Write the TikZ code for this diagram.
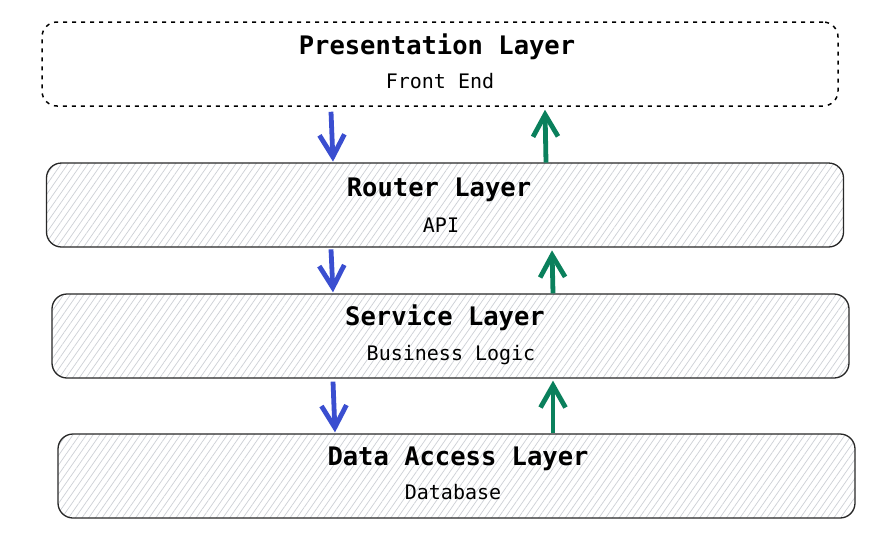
\documentclass[tikz,border=0pt]{standalone}
\usepackage{fontspec}
\setmonofont{DejaVu Sans Mono}
\usetikzlibrary{arrows.meta,patterns.meta,calc}
\definecolor{downblue}{RGB}{58,78,208}
\definecolor{upgreen}{RGB}{10,128,92}
\definecolor{hatchgrey}{RGB}{205,208,214}
\definecolor{edgegrey}{RGB}{40,40,40}
\tikzset{
  layerbox/.style={draw=edgegrey, line width=1.3pt, rounded corners=15pt,
    minimum width=797pt, minimum height=84pt, inner sep=0pt,
    pattern={Lines[angle=55,distance=5.5pt,line width=0.7pt]}, pattern color=hatchgrey},
  toplayer/.style={draw=black, line width=1.5pt, rounded corners=15pt,
    minimum width=796pt, minimum height=84pt, inner sep=0pt,
    dash pattern=on 4pt off 5pt},
  titletext/.style={font=\ttfamily\bfseries\fontsize{25.5}{28}\selectfont, inner sep=0pt, anchor=center},
  subtext/.style={font=\ttfamily\fontsize{20}{24}\selectfont, inner sep=0pt, anchor=center},
  downarr/.style={draw=downblue, line width=4.8pt, -{Straight Barb[length=22pt,width=25pt,line width=4.8pt]}},
  uparr/.style={draw=upgreen, line width=4.8pt, -{Straight Barb[length=22pt,width=25pt,line width=4.8pt]}},
}
\begin{document}
\begin{tikzpicture}[x=1pt,y=-1pt]
\useasboundingbox (0,0) rectangle (890,539);
\fill[white] (0,0) rectangle (890,539);

\node[toplayer] (pres) at (440,64) {};
\node[layerbox] (rout) at (445,205) {};
\node[layerbox] (serv) at (450.5,336) {};
\node[layerbox] (data) at (456.5,476) {};

\node[titletext] (presT) at (437,47) {Presentation Layer};
\node[subtext]   (presS) at (440,81) {Front End};
\node[titletext] (routT) at (439,190) {Router Layer};
\node[subtext]   (routS) at (441,225) {API};
\node[titletext] (servT) at (445,318) {Service Layer};
\node[subtext]   (servS) at (451,355) {Business Logic};
\node[titletext] (dataT) at (458,459) {Data Access Layer};
\node[subtext]   (dataS) at (453,492) {Database};

\coordinate (b1s) at (331,0); \coordinate (b1e) at (333,0);
\coordinate (g1s) at (546,0); \coordinate (g1e) at (545,0);
\coordinate (b2s) at (331,0); \coordinate (b2e) at (333,0);
\coordinate (g2s) at (553,0); \coordinate (g2e) at (552,0);
\coordinate (b3s) at (333,0); \coordinate (b3e) at (335,0);
\coordinate (g3s) at (553,0); \coordinate (g3e) at (553,0);

\draw[downarr] ($(pres.south -| b1s)+(0,5)$) -- ($(rout.north -| b1e)+(0,-1)$);
\draw[uparr] (rout.north -| g1s) -- ($(pres.south -| g1e)+(0,3)$);
\draw[downarr] ($(rout.south -| b2s)+(0,2)$) -- ($(serv.north -| b2e)+(0,-1)$);
\draw[uparr] (serv.north -| g2s) -- ($(rout.south -| g2e)+(0,3)$);
\draw[downarr] ($(serv.south -| b3s)+(0,3)$) -- ($(data.north -| b3e)+(0,-1)$);
\draw[uparr] (data.north -| g3s) -- ($(serv.south -| g3e)+(0,2)$);
\end{tikzpicture}
\end{document}
